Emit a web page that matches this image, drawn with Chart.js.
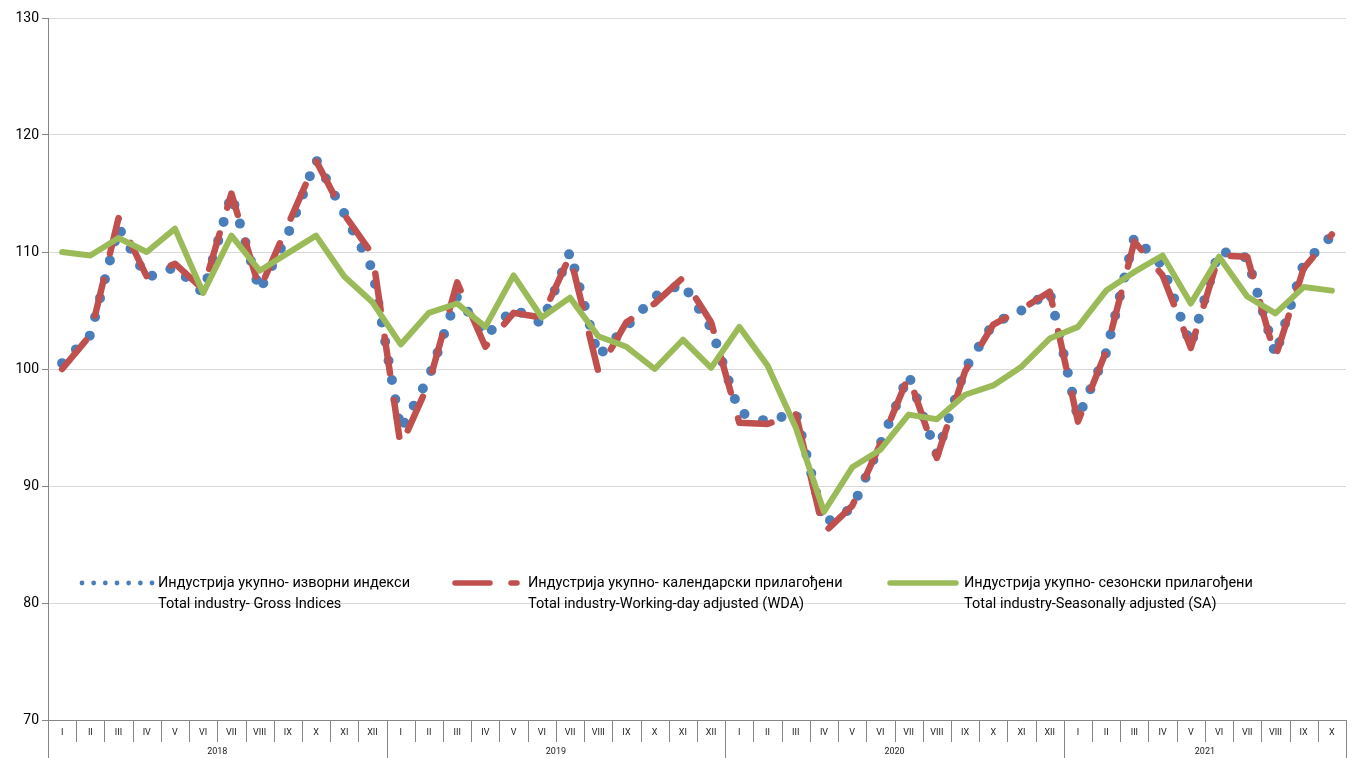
<!DOCTYPE html>
<html><head><meta charset="utf-8">
<script src="https://cdn.jsdelivr.net/npm/chart.js@4.4.1/dist/chart.umd.min.js"></script>
<style>html,body{margin:0;padding:0;background:#fff;overflow:hidden}#wrap{width:1354px;height:758px;position:relative}</style>
</head><body><div id="wrap"><canvas id="c" width="1354" height="758" style="width:1354px;height:758px"></canvas></div>
<script>
// ---- data ----
const years = ['2018', '2019', '2020', '2021'];
const monthsPerYear = [12, 12, 12, 10];
const monthNames = ['I','II','III','IV','V','VI','VII','VIII','IX','X','XI','XII'];
const categories = [];
years.forEach((y, i) => { for (let m = 0; m < monthsPerYear[i]; m++) categories.push(monthNames[m]); });
const yTicks = [70, 80, 90, 100, 110, 120, 130];

const grossIndices = [
  100.5, 102.9, 112.1, 107.8, 108.7, 106.5, 114.9, 106.7, 111.5, 117.9, 113.3, 108.5,
  94.8, 99.3, 106.2, 102.8, 105.15, 103.9, 110.0, 101.1, 103.6, 106.2, 107.3, 103.5,
  96.3, 95.5, 96.3, 86.8, 88.1, 93.6, 99.5, 92.7, 100.0, 103.9, 105.0, 106.6,
  95.8, 101.4, 111.3, 108.8, 102.0, 110.1, 109.5, 101.2, 109.0, 111.4
];
const workingDayAdjusted = [
  100.0, 102.9, 112.9, 107.9, 109.0, 106.8, 115.0, 106.8, 112.3, 117.8, 113.2, 109.8,
  93.4, 98.8, 107.4, 101.9, 104.8, 104.4, 109.7, 99.8, 104.0, 105.6, 107.8, 104.0,
  95.4, 95.3, 96.2, 86.0, 88.3, 93.6, 99.4, 92.4, 99.8, 103.8, 105.1, 106.6,
  95.5, 101.5, 110.9, 108.0, 101.8, 109.7, 109.6, 101.0, 108.6, 111.5
];
const seasonallyAdjusted = [
  110.0, 109.7, 111.2, 110.0, 112.0, 106.5, 111.4, 108.4, 109.9, 111.4, 107.9, 105.7,
  102.1, 104.8, 105.6, 103.6, 108.0, 104.4, 106.1, 102.8, 101.9, 100.0, 102.5, 100.1,
  103.6, 100.3, 95.0, 87.8, 91.6, 93.1, 96.1, 95.7, 97.8, 98.6, 100.2, 102.6,
  103.6, 106.7, 108.3, 109.7, 105.6, 109.6, 106.2, 104.75, 107.0, 106.7
];
const seriesNamesSr = ['Индустрија укупно- изворни индекси', 'Индустрија укупно- календарски прилагођени', 'Индустрија укупно- сезонски прилагођени'];
const seriesNamesEn = ['Total industry- Gross Indices', 'Total industry-Working-day adjusted (WDA)', 'Total industry-Seasonally adjusted (SA)'];

// ---- style ----
const BLUE = '#4a7ebb', RED = '#c0504d', GREEN = '#9bbb59';
const AXIS = '#868686', GRID = '#d9d9d9';
const FONT = 'Roboto, "Liberation Sans", sans-serif';

const axisPlugin = {
  id: 'axisPlugin',
  afterDraw(chart) {
    const ctx = chart.ctx, ca = chart.chartArea, x = chart.scales.x;
    const step = x.getPixelForValue(1) - x.getPixelForValue(0);
    ctx.save();
    ctx.strokeStyle = AXIS; ctx.lineWidth = 1;
    ctx.beginPath(); ctx.moveTo(ca.left, Math.round(ca.bottom) + 0.5); ctx.lineTo(ca.right, Math.round(ca.bottom) + 0.5); ctx.stroke();
    const yearStarts = [0]; monthsPerYear.forEach((n, i) => yearStarts.push(yearStarts[i] + n));
    for (let i = 0; i <= categories.length; i++) {
      const bx = Math.round(x.getPixelForValue(0) - step / 2 + i * step) + 0.5;
      const full = yearStarts.includes(i);
      ctx.beginPath(); ctx.moveTo(bx, ca.bottom); ctx.lineTo(bx, full ? chart.height : ca.bottom + 22); ctx.stroke();
    }
    ctx.fillStyle = '#222'; ctx.textAlign = 'center'; ctx.textBaseline = 'middle';
    ctx.font = '9px ' + FONT;
    categories.forEach((c, i) => ctx.fillText(c, x.getPixelForValue(i), ca.bottom + 13));
    years.forEach((y, i) => {
      const a = x.getPixelForValue(yearStarts[i]), b = x.getPixelForValue(yearStarts[i + 1] - 1);
      ctx.fillText(y, (a + b) / 2, ca.bottom + 32);
    });
    // legend
    const ly1 = 583, ly2 = 604;
    const items = [{s: 82, e: 152, t: 158}, {s: 452, e: 520, t: 528}, {s: 888, e: 958, t: 964}];
    ctx.fillStyle = BLUE;
    for (let k = 0; k < 7; k++) { ctx.beginPath(); ctx.arc(items[0].s + k * (items[0].e - items[0].s) / 6, ly1, 2.4, 0, Math.PI * 2); ctx.fill(); }
    ctx.strokeStyle = RED; ctx.lineWidth = 5.5; ctx.lineCap = 'round';
    ctx.beginPath(); ctx.moveTo(455, ly1); ctx.lineTo(490, ly1); ctx.moveTo(511, ly1); ctx.lineTo(517, ly1); ctx.stroke();
    ctx.strokeStyle = GREEN; ctx.lineWidth = 5.5;
    ctx.beginPath(); ctx.moveTo(890, ly1); ctx.lineTo(956, ly1); ctx.stroke();
    ctx.font = '14.5px ' + FONT; ctx.textAlign = 'left'; ctx.fillStyle = '#000';
    items.forEach((it, i) => {
      ctx.fillText(seriesNamesSr[i], it.t, ly1);
      ctx.fillText(seriesNamesEn[i], it.t, ly2);
    });
    ctx.restore();
  }
};

new Chart(document.getElementById('c'), {
  type: 'line',
  data: {
    labels: categories,
    datasets: [
      { label: seriesNamesSr[0], data: grossIndices, borderColor: BLUE, borderWidth: 10, borderDash: [0, 19.5], borderCapStyle: 'round', borderJoinStyle: 'round', pointRadius: 0, tension: 0, order: 3, fill: false },
      { label: seriesNamesSr[1], data: workingDayAdjusted, borderColor: RED, borderWidth: 6.5, borderDash: [37, 27], borderCapStyle: 'round', borderJoinStyle: 'round', pointRadius: 0, tension: 0, order: 2, fill: false },
      { label: seriesNamesSr[2], data: seasonallyAdjusted, borderColor: GREEN, borderWidth: 6, borderCapStyle: 'round', borderJoinStyle: 'round', pointRadius: 0, tension: 0, order: 1, fill: false }
    ]
  },
  options: {
    responsive: false, animation: false, devicePixelRatio: 1,
    layout: { padding: { top: 18, right: 8, left: 0, bottom: 0 } },
    plugins: { legend: { display: false }, tooltip: { enabled: false } },
    scales: {
      x: {
        type: 'category', offset: true,
        ticks: { display: false }, grid: { display: false }, border: { display: false },
        afterFit: s => { s.height = 38; }
      },
      y: {
        min: 70, max: 130,
        afterBuildTicks: s => { s.ticks = yTicks.map(v => ({ value: v })); },
        ticks: { font: { family: FONT, size: 14 }, color: '#000', padding: 3 },
        grid: { color: GRID, tickColor: AXIS, tickLength: 6, lineWidth: 1 },
        border: { color: AXIS },
        afterFit: s => { s.width = 48; }
      }
    }
  },
  plugins: [axisPlugin]
});
</script></body></html>
